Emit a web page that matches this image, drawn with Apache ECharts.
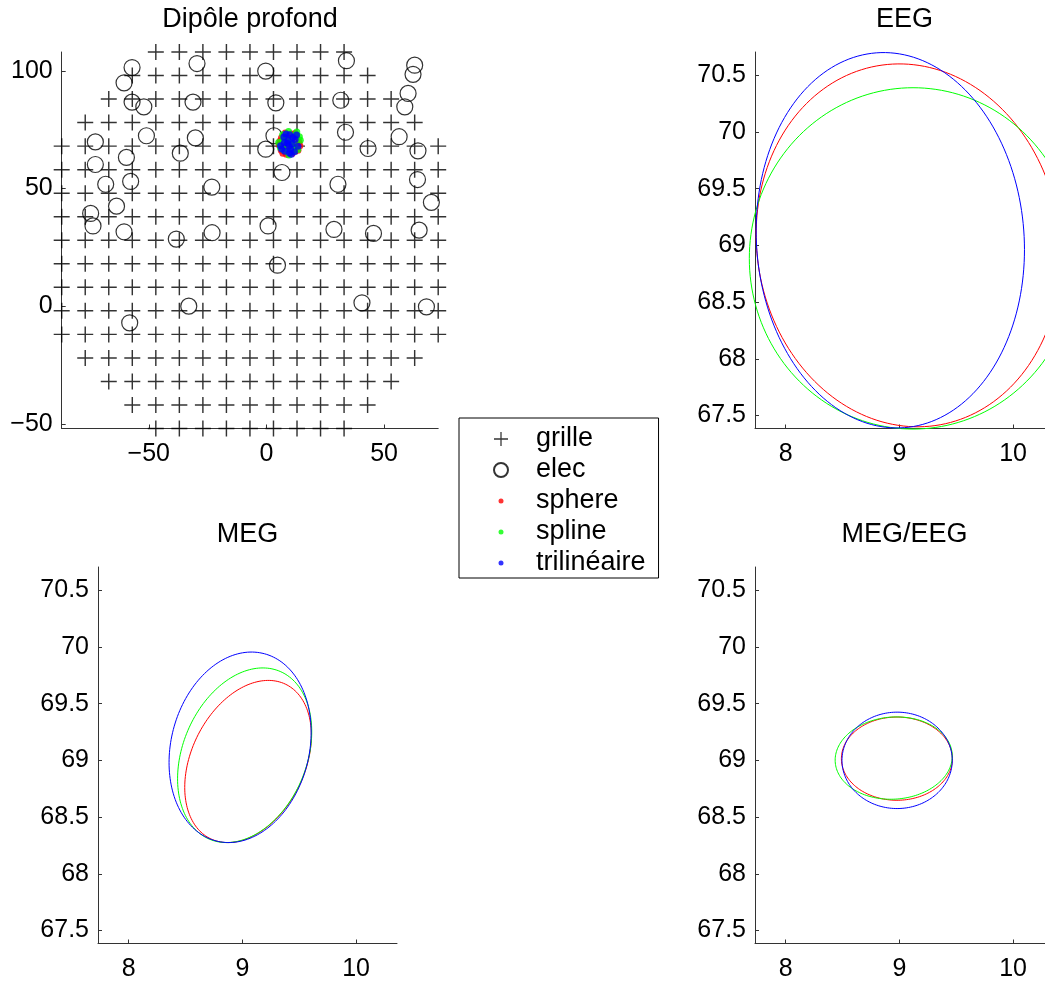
<!DOCTYPE html>
<html><head><meta charset="utf-8">
<script src="https://cdn.jsdelivr.net/npm/echarts@6/dist/echarts.min.js"></script>
<style>html,body{margin:0;padding:0;background:#fff}#c{width:1045px;height:984px}</style>
</head><body><div id="c"></div><script>
// ---- Data: source grid (+) ----
const gridCols = [-87,-77,-67,-57,-47,-37,-27,-17,-7,3,13,23,33,43,53,63,73];
const gridRowY = [108,98,88,78,68,58,48,38,28,18,8,-2,-12,-22,-32,-42,-52];
const gridRowFirst = [4,3,2,1,0,0,0,0,0,0,0,0,0,1,2,3,4];
const gridRowLast = [12,13,14,15,16,16,16,16,16,16,16,16,16,15,14,13,12];
// ---- electrodes (o) ----
const elecPos = [[-57.1,101.4],[-60.5,94.9],[-57.1,86.7],[-52.1,84.7],[-51.0,72.4],[-72.7,69.8],[-59.5,63.2],[-72.7,60.2],[-68.3,51.8],[-57.7,53.0],[-63.7,42.5],[-74.7,39.4],[-73.7,34.1],[-60.5,31.6],[-38.3,28.5],[-36.6,65.0],[-29.5,103.1],[-0.3,99.9],[-31.2,86.7],[4.0,86.4],[-30.2,71.5],[3.2,72.4],[-0.3,66.7],[6.6,56.8],[-23.2,50.6],[0.7,34.1],[-23.1,31.2],[34.0,104.3],[63.0,102.4],[62.3,98.5],[31.6,87.5],[60.2,90.4],[58.8,84.7],[33.6,73.9],[56.4,72.0],[43.2,67.0],[64.4,66.0],[64.2,53.8],[30.4,51.8],[70.1,44.1],[28.7,32.6],[45.5,30.9],[64.9,32.3],[-58.1,-7.1],[-33.0,0.0],[4.7,17.4],[40.6,1.4],[68.0,-0.3]];
// ---- estimated dipole positions (dots) ----
const spherePts = [[6.4,71.6],[8.0,73.6],[10.6,73.2],[12.8,71.9],[13.8,69.6],[12.6,67.0],[11.0,65.0],[8.5,64.6],[6.3,66.2],[5.4,68.6],[7.9,69.9],[9.6,70.8],[11.1,69.3],[9.2,67.6],[7.4,68.1],[10.1,68.4],[8.8,72.0],[12.2,73.4],[5.8,70.2],[14.2,68.2],[7.0,65.0],[13.4,66.3]];
const splinePts = [[5.2,69.5],[6.9,72.8],[9.4,74.2],[11.8,72.6],[14.4,70.5],[13.3,66.6],[11.4,65.8],[9.0,65.6],[7.3,66.5],[5.9,67.4],[8.4,68.8],[10.6,70.4],[12.0,68.7],[9.8,69.6],[7.0,70.6],[10.7,67.4],[8.2,71.2],[14.0,72.0],[9.6,64.2],[12.9,74.0]];
const trilinPts = [[6.0,68.2],[7.4,71.9],[9.9,72.8],[12.2,70.8],[13.4,68.0],[11.9,65.6],[9.8,65.1],[7.8,65.8],[6.5,66.8],[8.9,69.2],[10.9,68.9],[9.3,70.4],[7.6,69.4],[12.8,72.7],[10.3,66.8],[8.3,73.2],[11.2,71.7],[9.6,67.9],[10.6,64.6]];
// ---- confidence ellipses: [centerX, centerY, halfWidth, halfHeight, correlation] ----
const eegSphere = [9.08, 69.0, 1.34, 1.60, -0.06];
const eegSpline = [9.12, 68.885, 1.44, 1.505, 0.0];
const eegTrilin = [8.92, 69.045, 1.18, 1.655, -0.05];
const megSphere = [9.05, 68.99, 0.557, 0.715, 0.32];
const megSpline = [9.02, 69.045, 0.59, 0.77, 0.27];
const megTrilin = [8.98, 69.115, 0.625, 0.84, 0.16];
const bothSphere = [8.978, 69.015, 0.488, 0.367, 0.0];
const bothSpline = [8.95, 69.02, 0.515, 0.363, 0.05];
const bothTrilin = [8.98, 69.0, 0.485, 0.425, 0.0];
// ---- ticks ----
const tlXTicks = [-50, 0, 50];
const tlYTicks = [-50, 0, 50, 100];
const smXTicks = [8, 9, 10];
const smYTicks = [67.5, 68, 68.5, 69, 69.5, 70, 70.5];
const titles = ['Dipôle profond', 'EEG', 'MEG', 'MEG/EEG'];

const FONT = 'Liberation Sans';
const AX = '#333';
const gridPts = [];
gridRowY.forEach((y, i) => { for (let k = gridRowFirst[i]; k <= gridRowLast[i]; k++) gridPts.push([gridCols[k], y]); });

const plusPath = 'path://M0,4.55h10v0.9h-10zM4.55,0h0.9v10h-0.9z';
const dotIcon = 'path://M0,0M14,14M4.5,7a2.5,2.5 0 1,0 5,0a2.5,2.5 0 1,0 -5,0z';
const fmt = v => (v < 0 ? '\u2212' + Math.abs(v) : String(v));

function axis(g, min, max, ticks) {
  return { gridIndex: g, type: 'value', min, max,
    axisLine: { show: true, onZero: false, lineStyle: { color: AX, width: 1 } },
    axisTick: { show: true, inside: true, length: 4, customValues: ticks, lineStyle: { color: AX } },
    axisLabel: { customValues: ticks, formatter: fmt, fontSize: 25, fontFamily: FONT, color: '#000', margin: 9 },
    splitLine: { show: false } };
}
function xAx(g, min, max, ticks) { const a = axis(g, min, max, ticks); a.axisLabel.margin = 13; return a; }
function yAx(g, min, max, ticks) { return axis(g, min, max, ticks); }
function renderEllipse(params, api) {
  const cx = api.value(0), cy = api.value(1), sx = api.value(2), sy = api.value(3), r = api.value(4);
  const q = Math.sqrt(1 - r * r);
  const pts = [];
  for (let i = 0; i <= 180; i++) {
    const t = 2 * Math.PI * i / 180;
    pts.push(api.coord([cx + sx * Math.cos(t), cy + sy * (r * Math.cos(t) + q * Math.sin(t))]));
  }
  return { type: 'polyline', shape: { points: pts }, style: { stroke: api.visual('color'), fill: null, lineWidth: 1 } };
}
function ell(name, g, params, color) {
  return { type: 'custom', name, xAxisIndex: g, yAxisIndex: g, coordinateSystem: 'cartesian2d',
    renderItem: renderEllipse, data: [params], encode: { x: 0, y: 1 }, clip: false, silent: true,
    itemStyle: { color } };
}
const RED = '#ff0000', GREEN = '#00ff00', BLUE = '#0000ff';
const titleEl = (txt, x, y) => ({ type: 'text', x, y, style: { text: txt, fontSize: 27, fontFamily: FONT, fill: '#000', textAlign: 'center', textVerticalAlign: 'middle' } });
// small plots: 113.7 px per unit, right ones reach the page edge
const SX0 = 7.73, SXR = 7.73 + 290 / 113.7, SXL = 10.36;

const chart = echarts.init(document.getElementById('c'), null, { renderer: 'canvas' });
chart.setOption({
  animation: false,
  backgroundColor: '#fff',
  grid: [
    { left: 61.7, top: 52, width: 376.5, height: 376.5 },
    { left: 755, top: 52, width: 290, height: 376.5 },
    { left: 98, top: 567, width: 299, height: 376.5 },
    { left: 755, top: 567, width: 290, height: 376.5 }
  ],
  xAxis: [ xAx(0, -87, 73, tlXTicks), xAx(1, SX0, SXR, smXTicks), xAx(2, SX0, SXL, smXTicks), xAx(3, SX0, SXR, smXTicks) ],
  yAxis: [ yAx(0, -52, 108, tlYTicks), yAx(1, 67.385, 70.705, smYTicks), yAx(2, 67.385, 70.705, smYTicks), yAx(3, 67.385, 70.705, smYTicks) ],
  graphic: [ titleEl(titles[0], 250, 20), titleEl(titles[1], 904.5, 20), titleEl(titles[2], 247.5, 535), titleEl(titles[3], 904.5, 535) ],
  legend: {
    orient: 'vertical', left: 459, top: 418, padding: [7.5, 13, 1.5, 34],
    itemWidth: 60, itemHeight: 14, itemGap: 4, selectedMode: false,
    borderColor: '#000', borderWidth: 1, backgroundColor: '#fff', z: 10,
    textStyle: { fontSize: 27, fontFamily: FONT, color: '#000' },
    data: [ { name: 'grille', icon: plusPath }, { name: 'elec', icon: 'circle' },
            { name: 'sphere', icon: dotIcon }, { name: 'spline', icon: dotIcon }, { name: 'trilinéaire', icon: dotIcon } ]
  },
  series: [
    { type: 'scatter', name: 'grille', xAxisIndex: 0, yAxisIndex: 0, data: gridPts, symbol: plusPath, symbolSize: 16, clip: false, silent: true, itemStyle: { color: '#000' } },
    { type: 'scatter', name: 'elec', xAxisIndex: 0, yAxisIndex: 0, data: elecPos, symbol: 'circle', symbolSize: 16, clip: false, silent: true, itemStyle: { color: 'rgba(255,255,255,0)', borderColor: '#000', borderWidth: 1.2 } },
    { type: 'scatter', name: 'sphere', xAxisIndex: 0, yAxisIndex: 0, data: spherePts, symbol: 'circle', symbolSize: 7, clip: false, silent: true, itemStyle: { color: RED } },
    { type: 'scatter', name: 'spline', xAxisIndex: 0, yAxisIndex: 0, data: splinePts, symbol: 'circle', symbolSize: 7, clip: false, silent: true, itemStyle: { color: GREEN } },
    { type: 'scatter', name: 'trilinéaire', xAxisIndex: 0, yAxisIndex: 0, data: trilinPts, symbol: 'circle', symbolSize: 7, clip: false, silent: true, itemStyle: { color: BLUE } },
    ell('sphere', 1, eegSphere, RED), ell('spline', 1, eegSpline, GREEN), ell('trilinéaire', 1, eegTrilin, BLUE),
    ell('sphere', 2, megSphere, RED), ell('spline', 2, megSpline, GREEN), ell('trilinéaire', 2, megTrilin, BLUE),
    ell('sphere', 3, bothSphere, RED), ell('spline', 3, bothSpline, GREEN), ell('trilinéaire', 3, bothTrilin, BLUE)
  ]
});
</script></body></html>
